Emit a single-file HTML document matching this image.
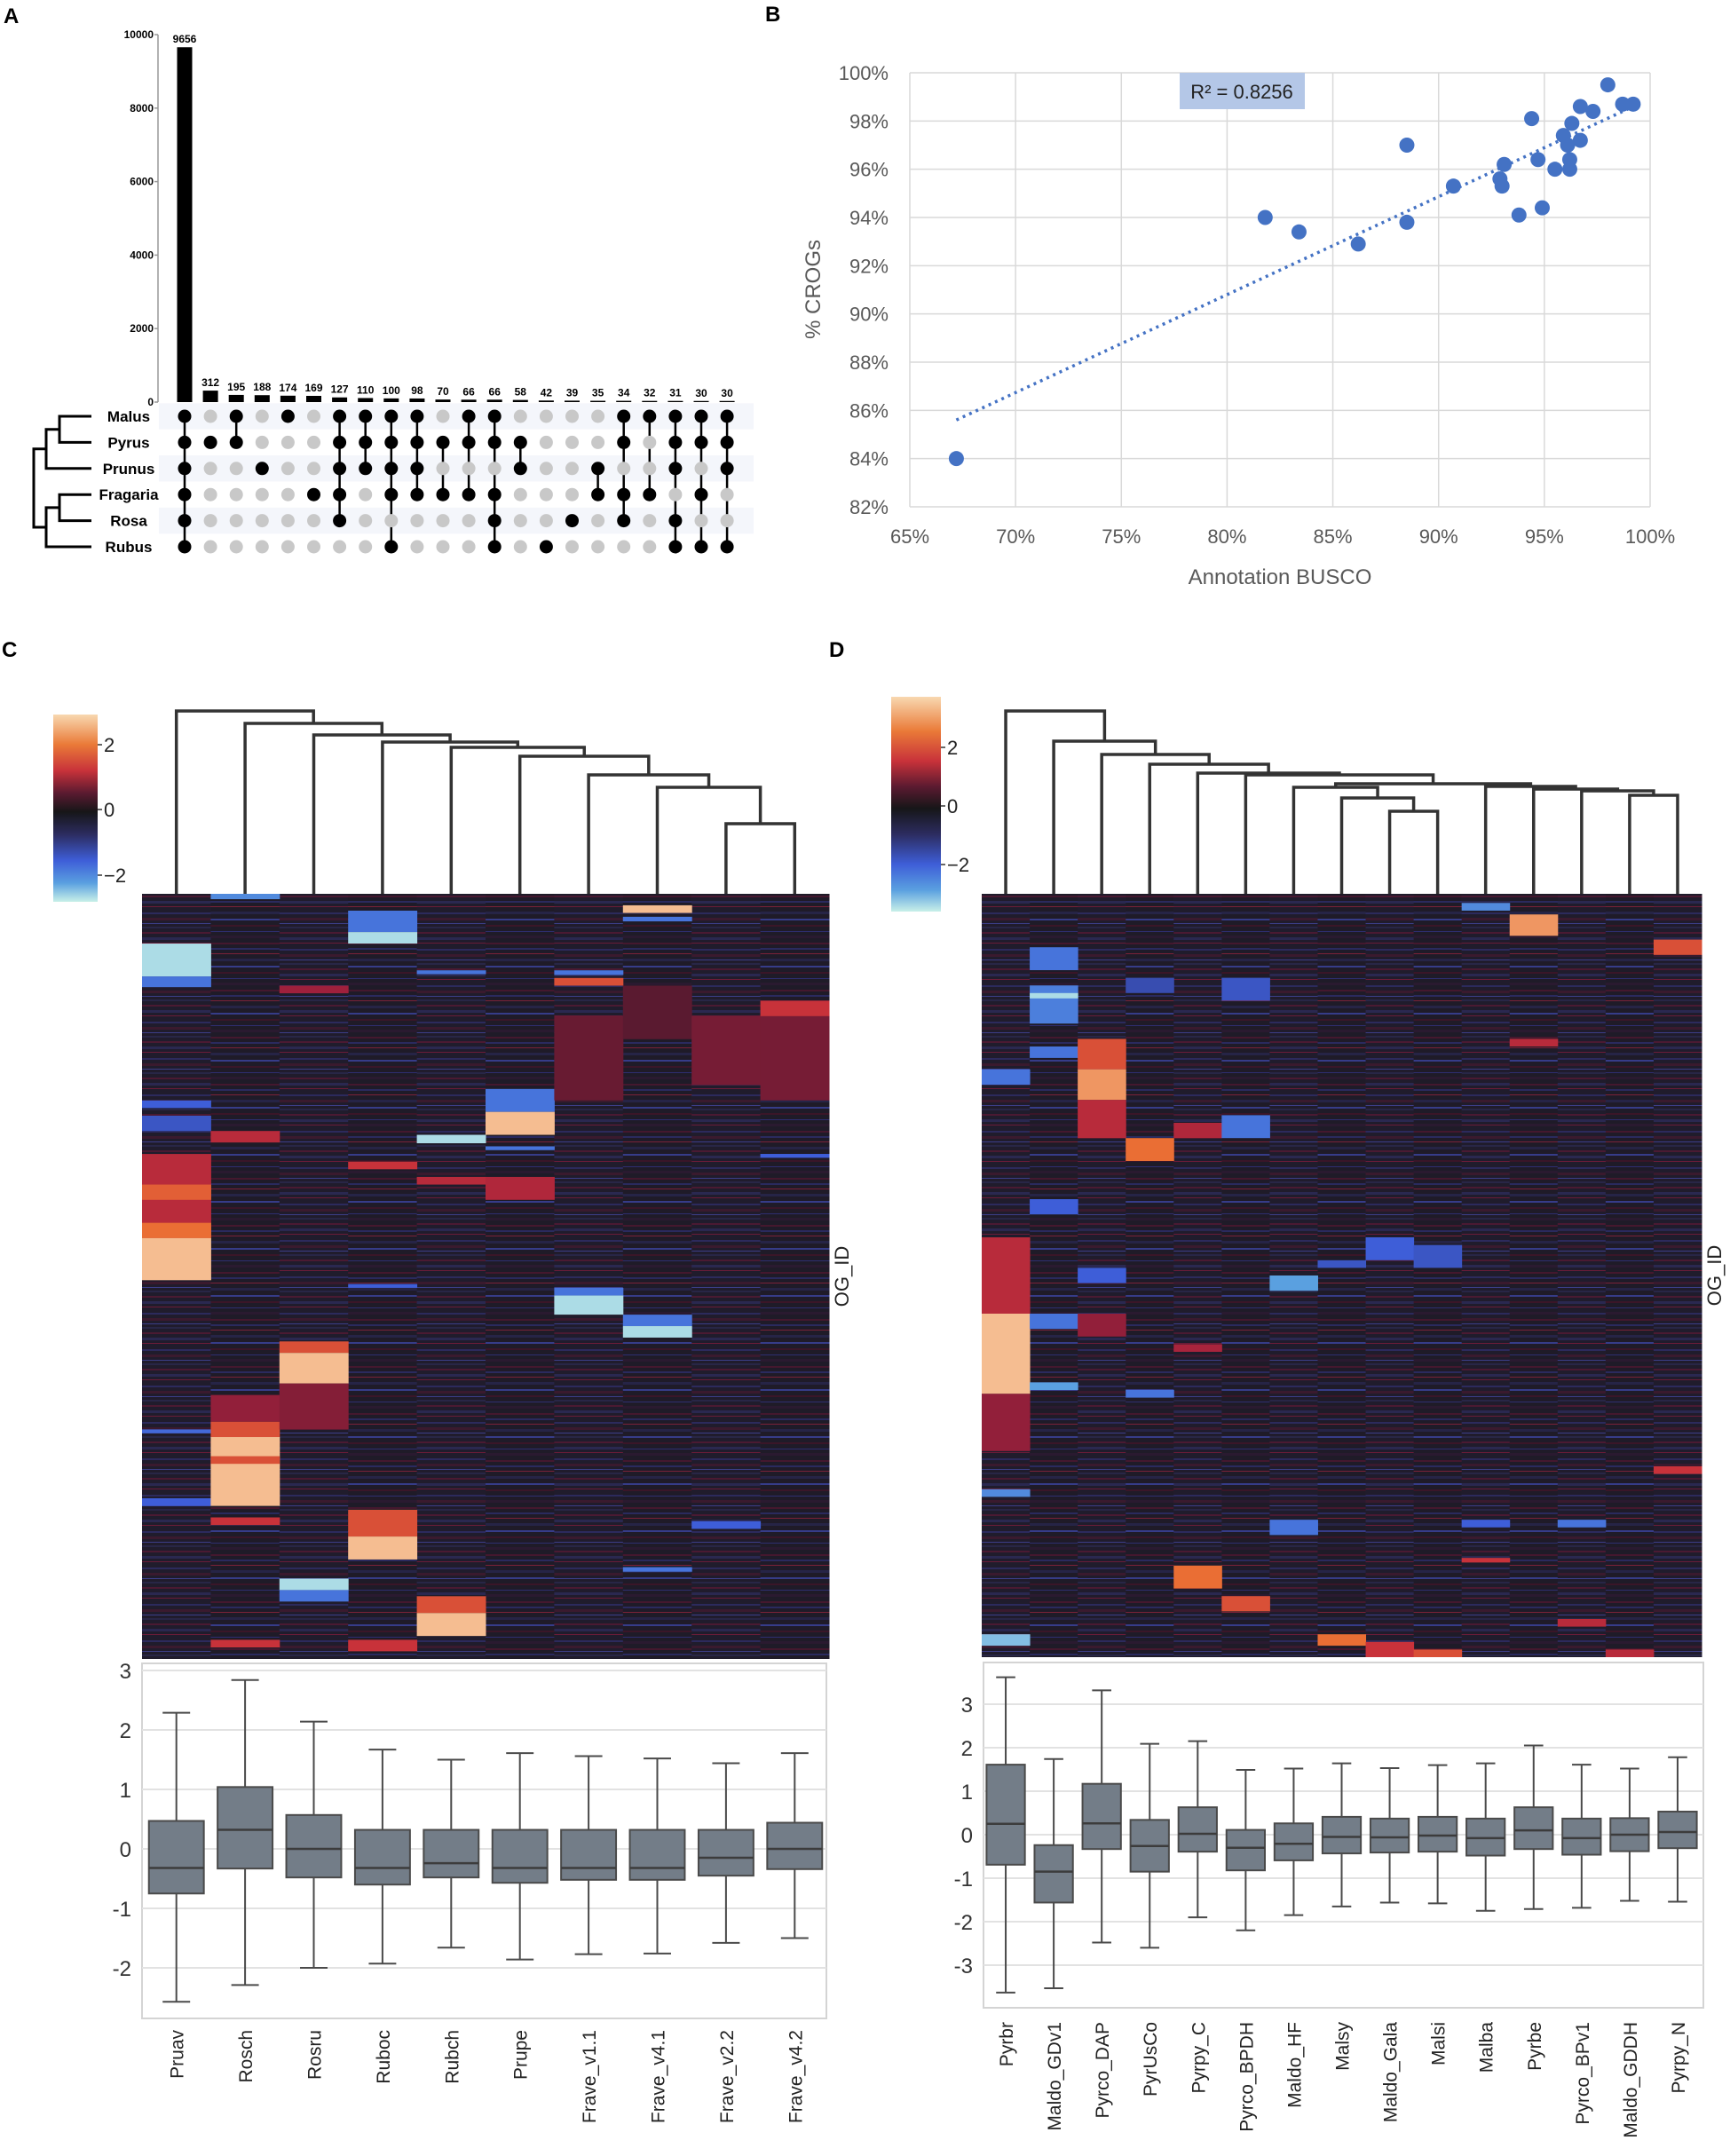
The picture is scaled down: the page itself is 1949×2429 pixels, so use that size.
<!DOCTYPE html>
<html><head><meta charset="utf-8"><style>
html,body{margin:0;padding:0;background:#fff;}
svg text{font-family:"Liberation Sans",sans-serif;}
</style></head><body>
<svg id="fig" xmlns="http://www.w3.org/2000/svg" width="1949" height="2424" viewBox="0 0 1949 2424">
<defs>
<linearGradient id="cmap" x1="0" y1="0" x2="0" y2="1">
<stop offset="0" stop-color="#f8d8b0"/><stop offset="0.16" stop-color="#ea7a38"/><stop offset="0.3" stop-color="#c8323a"/><stop offset="0.42" stop-color="#5a1a30"/><stop offset="0.52" stop-color="#161618"/><stop offset="0.64" stop-color="#2c2c60"/><stop offset="0.78" stop-color="#3e5ed8"/><stop offset="0.9" stop-color="#5aa0e0"/><stop offset="1" stop-color="#c8f0e8"/>
</linearGradient>
<pattern id="tex1" patternUnits="userSpaceOnUse" width="60" height="41">
<rect width="60" height="41" fill="#201c2c"/><rect y="3" width="60" height="2" fill="#2c2a5c"/><rect y="9" width="60" height="3" fill="#3a1a2e"/><rect y="15" width="60" height="1" fill="#3c3e88"/><rect y="19" width="60" height="2" fill="#282646"/><rect y="25" width="60" height="2" fill="#4a1a32"/><rect y="31" width="60" height="3" fill="#2a2850"/><rect y="37" width="60" height="1" fill="#6a1c38"/>
</pattern>
<pattern id="tex2" patternUnits="userSpaceOnUse" width="60" height="53">
<rect width="60" height="53" fill="#1f1b28"/><rect y="2" width="60" height="2" fill="#44182e"/><rect y="8" width="60" height="2" fill="#2a2a5e"/><rect y="14" width="60" height="1" fill="#7a2238"/><rect y="20" width="60" height="3" fill="#262446"/><rect y="28" width="60" height="2" fill="#363c88"/><rect y="35" width="60" height="2" fill="#3a1628"/><rect y="42" width="60" height="1" fill="#2e2e70"/><rect y="47" width="60" height="3" fill="#2a1a30"/>
</pattern>
</defs>
</svg>
<script>
const NS='http://www.w3.org/2000/svg';
const svg=document.getElementById('fig');
function mk(tag,attrs,parent,txt){const e=document.createElementNS(NS,tag);for(const k in attrs)e.setAttribute(k,attrs[k]);if(txt!==undefined)e.textContent=txt;(parent||svg).appendChild(e);return e;}

// ---------- Panel A data ----------
const upsetSets=['Malus','Pyrus','Prunus','Fragaria','Rosa','Rubus'];
const upsetSizes=[9656,312,195,188,174,169,127,110,100,98,70,66,66,58,42,39,35,34,32,31,30,30];
const upsetMembers=['111111','010000','110000','001000','100000','000100','111110','111000','111101','111100','010100','110100','110111','011000','000001','000010','001100','110110','100100','111011','110101','111001'];
const upsetTicks=[0,2000,4000,6000,8000,10000];

// ---------- Panel B data ----------
const buscoX=[67.2,81.8,83.4,86.2,88.5,88.5,90.7,92.9,93.0,93.1,93.8,94.4,94.7,94.9,95.5,95.9,96.1,96.2,96.2,96.3,96.7,96.7,97.3,98.0,98.7,99.2];
const crogY=[84.0,94.0,93.4,92.9,97.0,93.8,95.3,95.6,95.3,96.2,94.1,98.1,96.4,94.4,96.0,97.4,97.0,96.0,96.4,97.9,98.6,97.2,98.4,99.5,98.7,98.7];
const trendX=[67.2,99.2];
const trendY=[85.6,98.6];
const bXTicks=[65,70,75,80,85,90,95,100];
const bYTicks=[82,84,86,88,90,92,94,96,98,100];

// ---------- Panel C data ----------
const cCats=['Pruav','Rosch','Rosru','Ruboc','Rubch','Prupe','Frave_v1.1','Frave_v4.1','Frave_v2.2','Frave_v4.2'];
const cHi=[2.29,2.84,2.14,1.67,1.5,1.61,1.56,1.52,1.44,1.61];
const cQ3=[0.47,1.04,0.57,0.32,0.32,0.32,0.32,0.32,0.32,0.44];
const cMed=[-0.32,0.32,0,-0.32,-0.24,-0.32,-0.32,-0.32,-0.15,0];
const cQ1=[-0.75,-0.33,-0.48,-0.6,-0.48,-0.57,-0.52,-0.52,-0.45,-0.34];
const cLo=[-2.57,-2.29,-2.0,-1.93,-1.66,-1.86,-1.77,-1.76,-1.58,-1.5];
const cTicks=[3,2,1,0,-1,-2];
const cDendroDist=[206,192,179,171,165,155,134,120,79];
// heatmap highlight blocks: [column, startFrac, endFrac, zscore]
const cBlocks=[[0,0.065,0.108,-2.8],[0,0.108,0.122,-1.8],[0,0.27,0.28,-1.6],[0,0.29,0.31,-1.5],[0,0.34,0.45,1.6],[0,0.38,0.40,2.1],[0,0.43,0.45,2.2],[0,0.45,0.505,2.8],[0,0.79,0.80,-1.6],[0,0.70,0.705,-1.7],
[1,0,0.007,-2],[1,0.31,0.325,1.6],[1,0.655,0.69,1.2],[1,0.69,0.71,2.0],[1,0.71,0.80,2.8],[1,0.815,0.825,1.8],[1,0.975,0.985,1.8],[1,0.735,0.745,2.0],
[2,0.585,0.60,2.0],[2,0.60,0.64,2.8],[2,0.64,0.70,1.1],[2,0.895,0.91,-2.8],[2,0.91,0.925,-1.8],[2,0.12,0.13,1.3],
[3,0.022,0.05,-1.8],[3,0.05,0.065,-2.8],[3,0.35,0.36,1.8],[3,0.805,0.84,2.0],[3,0.84,0.87,2.8],[3,0.975,0.99,1.8],[3,0.51,0.515,-1.6],
[4,0.315,0.326,-2.8],[4,0.918,0.94,2.0],[4,0.94,0.97,2.8],[4,0.37,0.38,1.6],[4,0.1,0.105,-1.8],
[5,0.255,0.285,-1.8],[5,0.285,0.315,2.8],[5,0.37,0.40,1.5],[5,0.33,0.335,-1.8],
[6,0.10,0.106,-1.8],[6,0.11,0.12,2.0],[6,0.16,0.27,0.9],[6,0.515,0.525,-1.8],[6,0.525,0.55,-2.8],
[7,0.015,0.025,2.8],[7,0.03,0.036,-1.8],[7,0.12,0.19,0.8],[7,0.55,0.565,-1.8],[7,0.565,0.58,-2.8],[7,0.88,0.886,-1.8],
[8,0.16,0.25,1.0],[8,0.82,0.83,-1.6],
[9,0.14,0.16,1.8],[9,0.16,0.27,1.0],[9,0.34,0.345,-1.6]];

// ---------- Panel D data ----------
const dCats=['Pyrbr','Maldo_GDv1','Pyrco_DAP','PyrUsCo','Pyrpy_C','Pyrco_BPDH','Maldo_HF','Malsy','Maldo_Gala','Malsi','Malba','Pyrbe','Pyrco_BPv1','Maldo_GDDH','Pyrpy_N'];
const dHi=[3.62,1.74,3.32,2.09,2.15,1.49,1.52,1.64,1.53,1.6,1.64,2.05,1.61,1.52,1.78];
const dQ3=[1.61,-0.24,1.17,0.34,0.63,0.11,0.26,0.41,0.37,0.41,0.37,0.63,0.37,0.38,0.53];
const dMed=[0.25,-0.85,0.26,-0.26,0.02,-0.3,-0.21,-0.05,-0.06,-0.02,-0.08,0.1,-0.08,0,0.06];
const dQ1=[-0.69,-1.56,-0.33,-0.85,-0.39,-0.82,-0.59,-0.43,-0.41,-0.39,-0.48,-0.33,-0.46,-0.38,-0.31];
const dLo=[-3.63,-3.53,-2.48,-2.6,-1.9,-2.2,-1.85,-1.65,-1.56,-1.58,-1.75,-1.71,-1.68,-1.52,-1.54];
const dTicks=[3,2,1,0,-1,-2,-3];
// dendrogram nodes: [left, right, distance]; numbers = leaves, 'nK' = node K
const dTree=[[0,'n1',206],[1,'n2',172],[2,'n3',157],[3,'n4',146],[4,'n5',136],[5,'n6',134],['n7','n10',124],[6,'n8',120],[7,'n9',108],[8,9,93],[10,'n11',121],[11,'n12',118],[12,'n13',116],[13,14,111]];
const dBlocks=[[0,0.23,0.25,-1.8],[0,0.45,0.55,1.6],[0,0.55,0.655,2.8],[0,0.655,0.73,1.2],[0,0.78,0.79,-2.0],[0,0.97,0.985,-2.5],
[1,0.07,0.1,-1.8],[1,0.12,0.17,-1.9],[1,0.13,0.137,-2.8],[1,0.2,0.215,-1.8],[1,0.4,0.42,-1.6],[1,0.55,0.57,-1.8],[1,0.64,0.65,-2.2],
[2,0.19,0.23,2.0],[2,0.23,0.27,2.5],[2,0.27,0.32,1.6],[2,0.49,0.51,-1.6],[2,0.55,0.58,1.2],
[3,0.32,0.35,2.2],[3,0.11,0.13,-1.4],[3,0.65,0.66,-1.8],
[4,0.30,0.32,1.5],[4,0.88,0.91,2.2],[4,0.59,0.6,1.4],
[5,0.11,0.14,-1.5],[5,0.29,0.32,-1.8],[5,0.92,0.94,2.0],
[6,0.5,0.52,-2.2],[6,0.82,0.84,-1.8],
[7,0.97,0.985,2.2],[7,0.48,0.49,-1.5],
[8,0.45,0.48,-1.6],[8,0.98,1.0,1.8],
[9,0.46,0.49,-1.5],[9,0.99,1.0,2.0],
[10,0.012,0.022,-2.0],[10,0.87,0.876,1.8],[10,0.82,0.83,-1.6],
[11,0.027,0.055,2.5],[11,0.19,0.2,1.6],
[12,0.95,0.96,1.6],[12,0.82,0.83,-1.8],
[13,0.99,1.0,1.6],
[14,0.06,0.08,2.0],[14,0.75,0.76,1.8]];

function zColor(v){
  const stops=[[-3,[200,240,232]],[-2.2,[90,160,224]],[-1.6,[62,94,216]],[-1,[44,44,96]],[0,[22,22,24]],[0.8,[90,26,48]],[1.3,[160,32,60]],[1.8,[200,50,58]],[2.2,[234,110,52]],[3,[248,216,176]]];
  if(v<=stops[0][0])return 'rgb('+stops[0][1]+')';
  for(let i=1;i<stops.length;i++){if(v<=stops[i][0]){const a=stops[i-1],b=stops[i];const t=(v-a[0])/(b[0]-a[0]);return 'rgb('+a[1].map((c,j)=>Math.round(c+(b[1][j]-c)*t)).join(',')+')';}}
  return 'rgb('+stops[stops.length-1][1]+')';
}

// ================= PANEL A =================
(function(){
  const g=mk('g',{});
  mk('text',{x:4,y:26,'font-size':24,'font-weight':'bold'},g,'A');
  const axX=178,y0=453,y1=39,x0=208,dx=29.1,row0=469,drow=29.4;
  const ys=v=>y0-(v/10000)*(y0-y1);
  mk('line',{x1:axX,y1:y1,x2:axX,y2:y0,stroke:'#999','stroke-width':1.5},g);
  upsetTicks.forEach(t=>{
    mk('line',{x1:axX-4,y1:ys(t),x2:axX,y2:ys(t),stroke:'#999','stroke-width':1.5},g);
    const tx=mk('text',{x:axX-5,y:ys(t)+4,'font-size':12,'font-weight':'bold','text-anchor':'end'},g,String(t));
    
  });
  [0,2,4].forEach(r=>{mk('rect',{x:179,y:row0+r*drow-drow/2,width:670,height:drow,fill:'#f4f6fb'},g);});
  upsetSizes.forEach((s,i)=>{
    const cx=x0+i*dx;
    const b=mk('rect',{x:cx-8.5,y:ys(s),width:17,height:y0-ys(s),fill:'#000'},g);
    
    const l=mk('text',{x:cx,y:ys(s)-5,'font-size':12,'font-weight':'bold','text-anchor':'middle'},g,String(s));
    
    const m=upsetMembers[i];let first=-1,last=-1;
    for(let r=0;r<6;r++){if(m[r]==='1'){if(first<0)first=r;last=r;}}
    if(first!==last)mk('line',{x1:cx,y1:row0+first*drow,x2:cx,y2:row0+last*drow,stroke:'#000','stroke-width':2.5},g);
    for(let r=0;r<6;r++){
      const d=mk('circle',{cx:cx,cy:row0+r*drow,r:7.5,fill:m[r]==='1'?'#000':'#c8c8c8'},g);
      
    }
  });
  upsetSets.forEach((s,r)=>{
    const t=mk('text',{x:145,y:row0+r*drow+6,'font-size':17,'font-weight':'bold','text-anchor':'middle'},g,s);
    
  });
  const dg=mk('path',{d:'M103,'+row0+' H67 V'+(row0+drow)+' H103 M67,'+(row0+drow/2)+' H52 V'+(row0+2*drow)+' H103 M103,'+(row0+3*drow)+' H67 V'+(row0+4*drow)+' H103 M67,'+(row0+3.5*drow)+' H52 V'+(row0+5*drow)+' H103 M52,'+(row0+1.25*drow)+' H38 V'+(row0+4.25*drow)+' H52',fill:'none',stroke:'#000','stroke-width':3},g);
  
})();

// ================= PANEL B =================
(function(){
  const g=mk('g',{});
  mk('text',{x:862,y:24,'font-size':24,'font-weight':'bold'},g,'B');
  const L=1025,R=1859,T=82,B=571;
  const sx=v=>L+(v-65)/35*(R-L), sy=v=>B-(v-82)/18*(B-T);
  bXTicks.forEach(t=>{mk('line',{x1:sx(t),y1:T,x2:sx(t),y2:B,stroke:'#d9d9d9','stroke-width':1.5},g);
    const tx=mk('text',{x:sx(t),y:612,'font-size':22,fill:'#595959','text-anchor':'middle'},g,t+'%');});
  bYTicks.forEach(t=>{mk('line',{x1:L,y1:sy(t),x2:R,y2:sy(t),stroke:'#d9d9d9','stroke-width':1.5},g);
    const tx=mk('text',{x:1001,y:sy(t)+8,'font-size':22,fill:'#595959','text-anchor':'end'},g,t+'%');});
  const tl=mk('line',{x1:sx(trendX[0]),y1:sy(trendY[0]),x2:sx(trendX[1]),y2:sy(trendY[1]),stroke:'#4472c4','stroke-width':3.5,'stroke-dasharray':'3 5'},g);
  
  buscoX.forEach((x,i)=>{const c=mk('circle',{cx:sx(x),cy:sy(crogY[i]),r:8.5,fill:'#4472c4'},g);});
  const rb=mk('rect',{x:1329,y:82,width:141,height:41,fill:'#b4c7e7'},g);
  mk('text',{x:1399,y:111,'font-size':22,fill:'#222','text-anchor':'middle'},g,'R² = 0.8256');
  const xt=mk('text',{x:1442,y:658,'font-size':24,fill:'#595959','text-anchor':'middle'},g,'Annotation BUSCO');
  const yt=mk('text',{x:0,y:0,'font-size':24,fill:'#595959','text-anchor':'middle',transform:'translate(924,326) rotate(-90)'},g,'% CROGs');
})();

// ================= HEATMAP + BOX PANELS =================
function heatPanel(o){
  const g=mk('g',{});
  mk('text',{x:o.letterX,y:o.letterY,'font-size':24,'font-weight':'bold'},g,o.letter);
  const n=o.cats.length,cw=(o.hR-o.hL)/n,H=o.hB-o.hT;
  const cx=i=>o.hL+cw*(i+0.5);
  for(let i=0;i<n;i++){
    const r=mk('rect',{x:o.hL+i*cw,y:o.hT,width:cw+0.5,height:H,fill:i%2?'url(#tex2)':'url(#tex1)'},g);
    
  }
  o.blocks.forEach(b=>{
    const c=mk('rect',{x:o.hL+b[0]*cw,y:o.hT+b[1]*H,width:cw+0.5,height:Math.max(1.5,(b[2]-b[1])*H),fill:zColor(b[3])},g);
    
  });
  const og=mk('text',{x:0,y:0,'font-size':22,fill:'#222','text-anchor':'middle',transform:'translate('+(o.hR+22)+','+(o.hT+H*0.5)+') rotate(-90)'},g,'OG_ID');
  
  const cb=mk('rect',{x:o.cbL,y:o.cbT,width:o.cbW,height:o.cbH,fill:'url(#cmap)'},g);
  o.cbTicks.forEach((t,k)=>{mk('line',{x1:o.cbL+o.cbW,y1:t,x2:o.cbL+o.cbW+5,y2:t,stroke:'#333','stroke-width':1.5},g);
    mk('text',{x:o.cbL+o.cbW+7,y:t+8,'font-size':22,fill:'#222'},g,['2','0','\u22122'][k]);});
  const base=o.hT;
  const pos={};
  function nodeX(ref){if(typeof ref==='number')return cx(ref);return pos[ref];}
  function nodeY(ref){if(typeof ref==='number')return base;return base-o.tree[+ref.slice(1)][2];}
  for(let k=o.tree.length-1;k>=0;k--){const [a,b]=o.tree[k];pos['n'+k]=(nodeX(a)+nodeX(b))/2;}
  let d='';
  o.tree.forEach((nd)=>{const [a,b,dist]=nd;const y=base-dist;
    d+='M'+nodeX(a)+','+nodeY(a)+' V'+y+' H'+nodeX(b)+' V'+nodeY(b)+' ';});
  const dp=mk('path',{d:d,fill:'none',stroke:'#333','stroke-width':3.5},g);
  const bL=o.bL,bR=o.bR,bT=o.bT,bB=o.bB;
  const sy=v=>o.zeroY-v*o.unit;
  mk('rect',{x:bL,y:bT,width:bR-bL,height:bB-bT,fill:'#fff',stroke:'#d4d4d4','stroke-width':2},g);
  o.ticks.forEach(t=>{mk('line',{x1:bL,y1:sy(t),x2:bR,y2:sy(t),stroke:'#e2e2e2','stroke-width':2},g);
    const tx=mk('text',{x:bL-12,y:sy(t)+9,'font-size':24,fill:'#333','text-anchor':'end'},g,t<0?'-'+Math.abs(t):String(t));
    });
  const bw=cw*0.8;
  o.cats.forEach((c,i)=>{
    const x=cx(i);
    const bg=mk('g',{},g);
    mk('line',{x1:x,y1:sy(o.hi[i]),x2:x,y2:sy(o.lo[i]),stroke:'#4a4a4a','stroke-width':2},bg);
    mk('line',{x1:x-bw/4,y1:sy(o.hi[i]),x2:x+bw/4,y2:sy(o.hi[i]),stroke:'#4a4a4a','stroke-width':2},bg);
    mk('line',{x1:x-bw/4,y1:sy(o.lo[i]),x2:x+bw/4,y2:sy(o.lo[i]),stroke:'#4a4a4a','stroke-width':2},bg);
    mk('rect',{x:x-bw/2,y:sy(o.q3[i]),width:bw,height:sy(o.q1[i])-sy(o.q3[i]),fill:'#737d88',stroke:'#4a4a4a','stroke-width':2},bg);
    mk('line',{x1:x-bw/2,y1:sy(o.med[i]),x2:x+bw/2,y2:sy(o.med[i]),stroke:'#3c3c3c','stroke-width':2.5},bg);
    const lt=mk('text',{x:0,y:0,'font-size':21,fill:'#222','text-anchor':'end',transform:'translate('+(x+8)+','+o.labY+') rotate(-90)'},g,c);
    
  });
}
heatPanel({name:'panel-c-heatmap',letter:'C',letterX:2,letterY:740,cats:cCats,hi:cHi,q3:cQ3,med:cMed,q1:cQ1,lo:cLo,ticks:cTicks,
  hL:160,hR:934,hT:1007,hB:1869,blocks:cBlocks,cbL:60,cbT:805,cbW:50,cbH:211,cbTicks:[839,912,986],
  tree:cDendroDist.map((d,k)=>[k,k===cDendroDist.length-1?k+1:'n'+(k+1),d]),
  bL:160,bR:931,bT:1874,bB:2274,zeroY:2083,unit:67,labY:2287});
heatPanel({name:'panel-d-heatmap',letter:'D',letterX:934,letterY:740,cats:dCats,hi:dHi,q3:dQ3,med:dMed,q1:dQ1,lo:dLo,ticks:dTicks,
  hL:1106,hR:1917,hT:1007,hB:1867,blocks:dBlocks,cbL:1004,cbT:785,cbW:56,cbH:242,cbTicks:[842,908,974],
  tree:dTree,
  bL:1108,bR:1919,bT:1873,bB:2262,zeroY:2067,unit:49,labY:2278});
</script>
</body></html>
